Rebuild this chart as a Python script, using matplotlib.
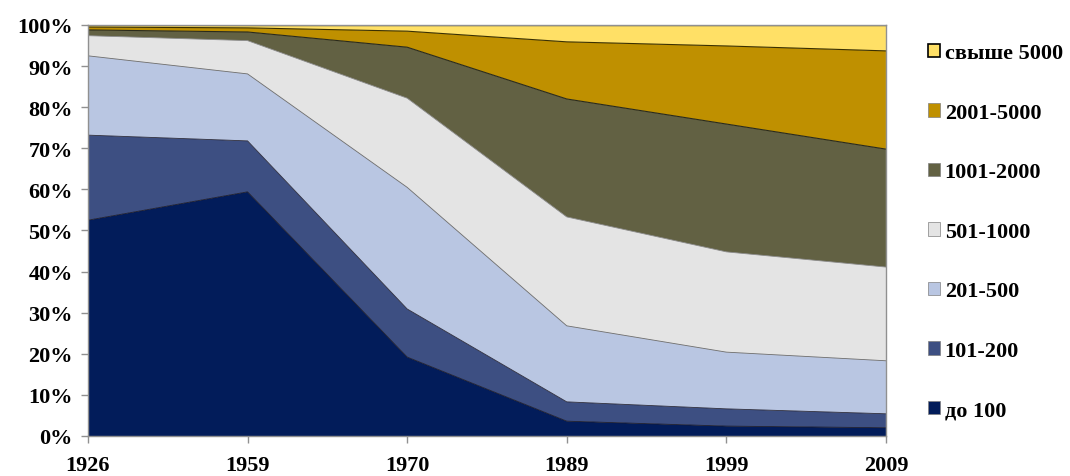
import numpy as np
import matplotlib
matplotlib.use("Agg")
import matplotlib.pyplot as plt
from matplotlib.patches import Patch

# годы переписей и доли групп поселений (%)
years = ["1926", "1959", "1970", "1989", "1999", "2009"]
groups = ["до 100", "101-200", "201-500", "501-1000", "1001-2000", "2001-5000", "свыше 5000"]
do_100 = [52.5, 59.4, 19.2, 3.6, 2.4, 2.0]
s101_200 = [20.7, 12.4, 11.7, 4.7, 4.2, 3.4]
s201_500 = [19.3, 16.3, 29.6, 18.5, 13.8, 12.9]
s501_1000 = [4.9, 8.1, 21.7, 26.5, 24.4, 22.8]
s1001_2000 = [1.4, 2.1, 12.4, 28.7, 31.1, 28.7]
s2001_5000 = [0.7, 1.0, 3.9, 13.9, 19.0, 23.9]
over_5000 = [0.5, 0.7, 1.5, 4.1, 5.1, 6.3]

series = [do_100, s101_200, s201_500, s501_1000, s1001_2000, s2001_5000, over_5000]
colors = ["#021c5a", "#3d4f82", "#b9c6e2", "#e4e4e4", "#626143", "#bf9000", "#ffe066"]
edges = ["#1a1a2a", "#2a2a3a", "#6a6a6a", "#8a8a8a", "#2a2a1a", "#3a3000", "#000000"]
edge_w = [0.6, 0.6, 0.6, 0.6, 0.8, 0.8, 1.6]

plt.rcParams["font.family"] = ["Liberation Serif", "DejaVu Serif"]
plt.rcParams["font.weight"] = "bold"
FS = 16

fig = plt.figure(figsize=(10.7, 4.77), dpi=100)
ax = fig.add_axes([0.0822, 0.0839, 0.7458, 0.8616])

x = np.arange(len(years))
data = np.array(series, dtype=float)
pct = data / data.sum(axis=0) * 100
cum = np.vstack([np.zeros(len(years)), np.cumsum(pct, axis=0)])

for i in range(len(groups)):
    ax.fill_between(x, cum[i], cum[i + 1], facecolor=colors[i],
                    edgecolor="none", zorder=2)
for i in range(len(groups) - 1, -1, -1):
    ax.plot(x, cum[i + 1], color=edges[i], lw=edge_w[i], zorder=3)

ax.set_xlim(0, len(years) - 1)
ax.set_ylim(0, 100)
ax.set_xticks(x)
ax.set_xticklabels(years)
ax.set_yticks(np.arange(0, 101, 10))
ax.set_yticklabels([f"{v}%" for v in range(0, 101, 10)])
ax.tick_params(axis="both", direction="out", length=5, width=1, color="#909090",
               labelsize=FS)
ax.tick_params(axis="x", pad=9)
ax.tick_params(axis="y", pad=6)
for sp in ax.spines.values():
    sp.set_color("#909090")
    sp.set_linewidth(1)
    sp.set_zorder(4)

handles = [Patch(facecolor=colors[i], edgecolor=("#000000" if i == 6 else "#808080"),
                 linewidth=(1.2 if i == 6 else 0.5))
           for i in range(len(groups))][::-1]
fig.legend(handles, groups[::-1], loc="upper left", bbox_to_anchor=(0.859, 0.926),
           frameon=False, fontsize=FS, handlelength=0.55, handleheight=0.55,
           handletextpad=0.2, labelspacing=1.78, borderaxespad=0)

fig.savefig("out.png", dpi=100)
